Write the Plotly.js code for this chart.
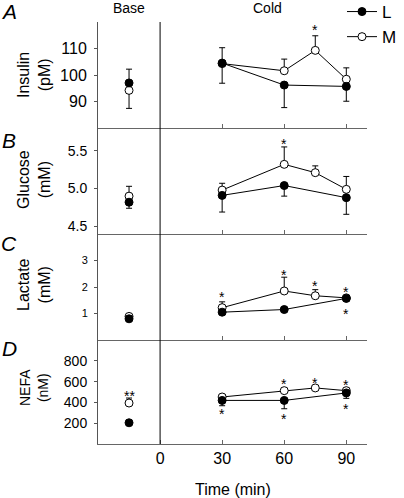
<!DOCTYPE html>
<html>
<head>
<meta charset="utf-8">
<script src="https://cdn.plot.ly/plotly-3.0.1.min.js"></script>
<style>html,body{margin:0;padding:0;background:#fff;}#chart{width:404px;height:498px;}</style>
</head>
<body>
<div id="chart"></div>
<script>
// ---- data ----
var baseTime = [-15];
var timesL = [30, 60, 90];
var timesM = [30, 60, 75, 90];
var xTicks = [0, 30, 60, 90];

// Panel A: Insulin (pM)
var insulinBaseL = [97.0], insulinBaseLUp = [5.2], insulinBaseLDn = [0];
var insulinBaseM = [94.2], insulinBaseMUp = [0], insulinBaseMDn = [6.8];
var insulinL = [104.5, 96.2, 95.7], insulinLUp = [5.8, 0, 0], insulinLDn = [0, 8.5, 5.6];
var insulinM = [104.3, 101.6, 109.3, 98.4], insulinMUp = [0, 4.4, 5.5, 4.3], insulinMDn = [7.4, 0, 0, 0];
var insulinStarX = [75], insulinStarY = [118], insulinStarT = ['*'];
var insulinTicks = [90, 100, 110];

// Panel B: Glucose (mM)
var glucoseBaseL = [4.82], glucoseBaseLUp = [0], glucoseBaseLDn = [0.08];
var glucoseBaseM = [4.90], glucoseBaseMUp = [0.13], glucoseBaseMDn = [0];
var glucoseL = [4.91, 5.04, 4.88], glucoseLUp = [0, 0, 0], glucoseLDn = [0.22, 0.14, 0.22];
var glucoseM = [4.98, 5.32, 5.21, 4.99], glucoseMUp = [0.09, 0.23, 0.09, 0.17], glucoseMDn = [0, 0, 0, 0];
var glucoseStarX = [60], glucoseStarY = [5.63], glucoseStarT = ['*'];
var glucoseTicks = [4.5, 5.0, 5.5];

// Panel C: Lactate (mM)
var lactateBaseL = [0.80], lactateBaseLUp = [0], lactateBaseLDn = [0.05];
var lactateBaseM = [0.89], lactateBaseMUp = [0.05], lactateBaseMDn = [0];
var lactateL = [1.05, 1.15, 1.57], lactateLUp = [0, 0, 0], lactateLDn = [0.08, 0.08, 0.1];
var lactateM = [1.22, 1.85, 1.67, 1.59], lactateMUp = [0.22, 0.52, 0.23, 0.05], lactateMDn = [0, 0, 0, 0];
var lactateStarX = [30, 60, 75, 90, 90], lactateStarY = [1.73, 2.56, 2.16, 1.91, 1.11], lactateStarT = ['*', '*', '*', '*', '*'];
var lactateTicks = [1, 2, 3];

// Panel D: NEFA (nM)
var nefaBaseL = [204], nefaBaseLUp = [0], nefaBaseLDn = [20];
var nefaBaseM = [394], nefaBaseMUp = [48], nefaBaseMDn = [0];
var nefaL = [419, 419, 491], nefaLUp = [0, 0, 0], nefaLDn = [51, 80, 52];
var nefaM = [452, 513, 539, 513], nefaMUp = [25, 25, 25, 25], nefaMDn = [0, 0, 0, 0];
var nefaStarX = [-15, 30, 60, 60, 75, 90, 90], nefaStarY = [491, 313, 603, 271, 617, 594, 368], nefaStarT = ['**', '*', '*', '*', '*', '*', '*'];
var nefaTicks = [200, 400, 600, 800];

var panelLetters = ['A', 'B', 'C', 'D'];
var panelTitles = ['Insulin<br>(pM)', 'Glucose<br>(mM)', 'Lactate<br>(mM)', 'NEFA<br>(nM)'];
var phaseLabels = ['Base', 'Cold'];
var phaseX = [-15, 52];
var xTitle = 'Time (min)';

// ---- layout geometry ----
var W = 404, H = 498;
var plotL = 98, plotR = 367, plotT = 22, plotB = 444;
var pw = plotR - plotL, ph = plotB - plotT;
function px2x(p) { return (p - plotL) / pw; }
function py2y(p) { return (plotB - p) / ph; }
// panel boundaries (pixel)
var bounds = [[22, 128], [128, 234], [234, 340], [340, 444]];
var yRanges = [[80, 120], [4.4, 5.8], [0, 4], [0, 1000]];
var tickFont = [16, 14, 11, 14];
var titleFont = [16, 16, 16, 14];
var titleY = [75, 180, 285, 388];
var letterY = [11, 140, 243, 348];

var FONT = 'Arial, "Liberation Sans", sans-serif';
var panels = [
  {bL: insulinBaseL, bLU: insulinBaseLUp, bLD: insulinBaseLDn, bM: insulinBaseM, bMU: insulinBaseMUp, bMD: insulinBaseMDn,
   L: insulinL, LU: insulinLUp, LD: insulinLDn, M: insulinM, MU: insulinMUp, MD: insulinMDn,
   sx: insulinStarX, sy: insulinStarY, st: insulinStarT, ticks: insulinTicks, fmt: ''},
  {bL: glucoseBaseL, bLU: glucoseBaseLUp, bLD: glucoseBaseLDn, bM: glucoseBaseM, bMU: glucoseBaseMUp, bMD: glucoseBaseMDn,
   L: glucoseL, LU: glucoseLUp, LD: glucoseLDn, M: glucoseM, MU: glucoseMUp, MD: glucoseMDn,
   sx: glucoseStarX, sy: glucoseStarY, st: glucoseStarT, ticks: glucoseTicks, fmt: '.1f'},
  {bL: lactateBaseL, bLU: lactateBaseLUp, bLD: lactateBaseLDn, bM: lactateBaseM, bMU: lactateBaseMUp, bMD: lactateBaseMDn,
   L: lactateL, LU: lactateLUp, LD: lactateLDn, M: lactateM, MU: lactateMUp, MD: lactateMDn,
   sx: lactateStarX, sy: lactateStarY, st: lactateStarT, ticks: lactateTicks, fmt: ''},
  {bL: nefaBaseL, bLU: nefaBaseLUp, bLD: nefaBaseLDn, bM: nefaBaseM, bMU: nefaBaseMUp, bMD: nefaBaseMDn,
   L: nefaL, LU: nefaLUp, LD: nefaLDn, M: nefaM, MU: nefaMUp, MD: nefaMDn,
   sx: nefaStarX, sy: nefaStarY, st: nefaStarT, ticks: nefaTicks, fmt: ''}
];

var data = [];
var layout = {
  width: W, height: H,
  margin: {l: plotL, r: W - plotR, t: plotT, b: H - plotB, pad: 0, autoexpand: false},
  paper_bgcolor: '#fff', plot_bgcolor: 'rgba(0,0,0,0)',
  font: {family: FONT, color: '#000', size: 14},
  showlegend: true,
  legend: {x: px2x(342), y: 1 + 28 / ph, xref: 'paper', yref: 'paper', xanchor: 'left', yanchor: 'top',
           font: {size: 17, family: FONT}, bgcolor: 'rgba(0,0,0,0)', tracegroupgap: 0, itemwidth: 30},
  annotations: [], shapes: []
};

function errY(up, dn) {
  return {type: 'data', symmetric: false, array: up, arrayminus: dn, color: '#000', thickness: 1, width: 3};
}
var markL = {symbol: 'circle', size: 8, color: '#000', line: {color: '#000', width: 1}};
var markM = {symbol: 'circle', size: 8, color: '#fff', line: {color: '#000', width: 1}};

panels.forEach(function (p, i) {
  var n = i + 1;
  var xa = n === 1 ? 'x' : 'x' + n, ya = n === 1 ? 'y' : 'y' + n;
  var xk = n === 1 ? 'xaxis' : 'xaxis' + n, yk = n === 1 ? 'yaxis' : 'yaxis' + n;
  var dom = [py2y(bounds[i][1]), py2y(bounds[i][0])];
  layout[xk] = {
    domain: [0, 1], anchor: ya, range: [-30, 100], showgrid: false, zeroline: false,
    showline: true, linecolor: '#666', linewidth: 1,
    ticks: 'inside', ticklen: 4, tickcolor: '#666', tickvals: i === 3 ? xTicks : [30, 60, 90],
    showticklabels: i === 3, tickfont: {size: 16, family: FONT, color: '#000'}, fixedrange: true
  };
  if (i !== 3) layout[xk].matches = 'x4';
  layout[yk] = {
    domain: dom, anchor: xa, range: yRanges[i], showgrid: false, zeroline: false,
    showline: true, linecolor: '#555', linewidth: 1,
    ticks: 'outside', ticklen: 3, tickcolor: '#555', tickvals: p.ticks, tickformat: p.fmt,
    tickfont: {size: tickFont[i], family: FONT, color: '#000'}, ticklabelstandoff: 4, fixedrange: true
  };
  // M cold
  data.push({x: timesM, y: p.M, xaxis: xa, yaxis: ya, type: 'scatter', mode: 'lines+markers', name: 'M',
    legendrank: 2, showlegend: i === 0, line: {color: '#000', width: 1}, marker: markM, error_y: errY(p.MU, p.MD), cliponaxis: false});
  // L cold
  data.push({x: timesL, y: p.L, xaxis: xa, yaxis: ya, type: 'scatter', mode: 'lines+markers', name: 'L',
    legendrank: 1, showlegend: i === 0, line: {color: '#000', width: 1}, marker: markL, error_y: errY(p.LU, p.LD), cliponaxis: false});
  // base M then L
  data.push({x: baseTime, y: p.bM, xaxis: xa, yaxis: ya, type: 'scatter', mode: 'markers', showlegend: false,
    marker: markM, error_y: errY(p.bMU, p.bMD), cliponaxis: false});
  data.push({x: baseTime, y: p.bL, xaxis: xa, yaxis: ya, type: 'scatter', mode: 'markers', showlegend: false,
    marker: markL, error_y: errY(p.bLU, p.bLD), cliponaxis: false});
  // stars
  p.sx.forEach(function (sx, k) {
    layout.annotations.push({x: sx, y: p.sy[k], xref: xa, yref: ya, text: p.st[k], showarrow: false,
      font: {size: 14, family: FONT, color: '#000'}, xanchor: 'center', yanchor: 'middle', yshift: -3});
  });
  // y titles
  layout.annotations.push({x: px2x(34), y: py2y(titleY[i]), xref: 'paper', yref: 'paper', text: panelTitles[i],
    textangle: -90, showarrow: false, xanchor: 'center', yanchor: 'middle',
    font: {size: titleFont[i], family: FONT, color: '#000'}});
  // panel letters
  layout.annotations.push({x: px2x(9), y: py2y(letterY[i]), xref: 'paper', yref: 'paper',
    text: '<i>' + panelLetters[i] + '</i>', showarrow: false, xanchor: 'center', yanchor: 'middle',
    font: {size: 21, family: FONT, color: '#000'}});
});

// phase labels
phaseLabels.forEach(function (t, k) {
  layout.annotations.push({x: phaseX[k], y: py2y(8), xref: 'x', yref: 'paper', text: t, showarrow: false,
    xanchor: 'center', yanchor: 'middle', font: {size: 14, family: FONT, color: '#000'}});
});
// x title
layout.annotations.push({x: 0.5, y: py2y(489), xref: 'paper', yref: 'paper', text: xTitle, showarrow: false,
  xanchor: 'center', yanchor: 'middle', font: {size: 16, family: FONT, color: '#000'}});

// vertical divider at time 0
layout.shapes.push({type: 'line', xref: 'x', yref: 'paper', x0: 0, x1: 0, y0: 0, y1: 1,
  line: {color: '#000', width: 1}});

Plotly.newPlot('chart', data, layout, {staticPlot: true, displayModeBar: false});
</script>
</body>
</html>
